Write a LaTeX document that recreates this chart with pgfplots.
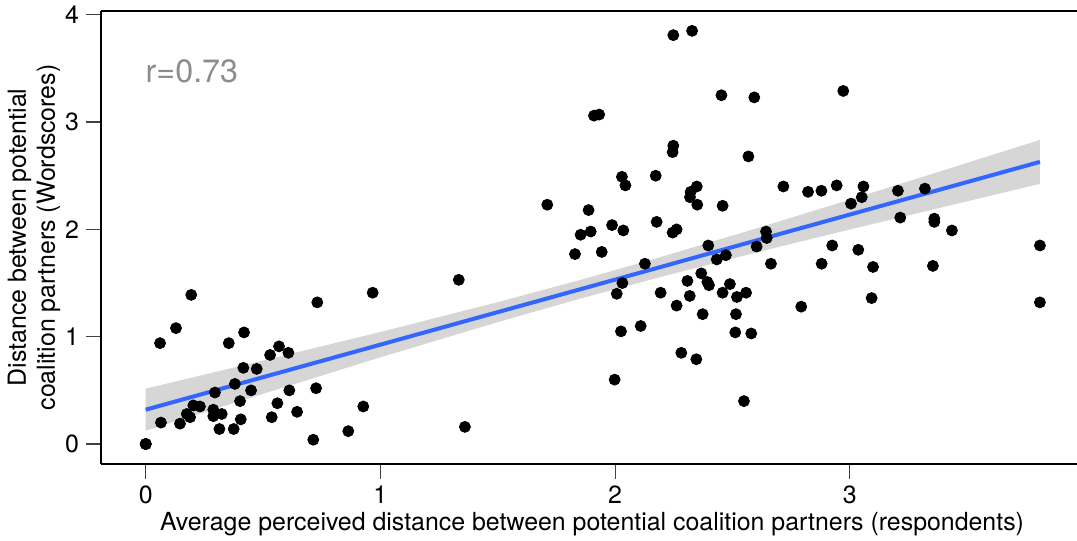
\documentclass[border=0pt]{standalone}
\usepackage{fontspec}
\setmainfont{TeX Gyre Heros}
\usepackage{pgfplots}
\pgfplotsset{compat=1.18}
\definecolor{bandgray}{RGB}{153,153,153}
\definecolor{fitblue}{HTML}{3366FF}
\definecolor{rgray}{HTML}{8C8C8C}

\begin{document}
\begin{tikzpicture}
\begin{axis}[
    scale only axis,
    width=488bp, height=226.5bp,
    xmin=-0.1905, xmax=3.968,
    ymin=-0.186, ymax=4.035,
    axis x line=box, axis y line=left,
    axis line style={-, line width=1bp},
    tick align=outside,
    xtick pos=left, ytick pos=left,
    xtick={0,1,2,3}, ytick={0,1,2,3,4},
    major tick length=7.5bp,
    major tick style={line width=0.6bp, black!75},
    /pgf/number format/assume math mode=true,
    tick label style={font=\fontsize{12.5}{14}\selectfont},
    label style={font=\fontsize{12.5}{14.5}\selectfont},
    xlabel={Average perceived distance between potential coalition partners (respondents)},
    xlabel style={at={(rel axis cs:0.5,0)}, anchor=base, xshift=1.5bp, yshift=-33bp},
    ylabel={Distance between potential\\coalition partners (Wordscores)},
    ylabel style={align=center, at={(rel axis cs:0,0.5)}, anchor=center, yshift=33.5bp},
    clip=false,
]
% observations
\addplot[only marks, mark=*, mark size=2.75bp, mark options={draw=none, fill=black}] coordinates {
(0,0) (0,0) (0,0)
(0.065,0.20) (0.061,0.94) (0.129,1.08) (0.194,1.39) (0.146,0.19)
(0.175,0.28) (0.189,0.25) (0.203,0.36) (0.231,0.35) (0.288,0.32)
(0.288,0.26) (0.324,0.28) (0.295,0.48) (0.314,0.14) (0.375,0.14)
(0.354,0.94) (0.419,1.04) (0.380,0.56) (0.402,0.40) (0.405,0.23)
(0.416,0.71) (0.449,0.50) (0.473,0.70) (0.530,0.83) (0.568,0.91)
(0.608,0.85) (0.537,0.25) (0.561,0.38) (0.612,0.50) (0.645,0.30)
(0.726,0.52) (0.731,1.32) (0.714,0.04) (0.863,0.12) (0.927,0.35)
(0.967,1.41)
(1.334,1.53) (1.360,0.16) (1.711,2.23) (1.829,1.77)
(1.853,1.95) (1.896,1.98) (1.887,2.18) (1.910,3.06) (1.932,3.07)
(1.943,1.79) (1.987,2.04) (1.998,0.60) (2.007,1.40) (2.025,1.05)
(2.031,1.50) (2.035,1.99) (2.029,2.49) (2.044,2.41) (2.109,1.10)
(2.127,1.68) (2.173,2.50) (2.177,2.07) (2.194,1.41) (2.245,1.97)
(2.262,2.00) (2.245,2.72) (2.248,2.78) (2.248,3.81) (2.262,1.29)
(2.282,0.85) (2.308,1.52) (2.318,1.38) (2.319,2.30) (2.322,2.35)
(2.328,3.85) (2.346,0.79) (2.348,2.40) (2.350,2.23) (2.367,1.59)
(2.373,1.21) (2.393,1.51) (2.400,1.48) (2.397,1.85) (2.433,1.72)
(2.453,3.25) (2.458,1.41) (2.458,2.22) (2.472,1.76) (2.489,1.49)
(2.512,1.04) (2.515,1.21) (2.519,1.37) (2.549,0.40) (2.558,1.41)
(2.568,2.68) (2.580,1.03) (2.593,3.23) (2.603,1.84) (2.643,1.98)
(2.646,1.92) (2.664,1.68) (2.717,2.40) (2.793,1.28) (2.822,2.35)
(2.879,2.36) (2.880,1.68) (2.925,1.85) (2.944,2.41) (2.972,3.29)
(3.005,2.24) (3.036,1.81) (3.051,2.30) (3.058,2.40) (3.093,1.36)
(3.099,1.65) (3.205,2.36) (3.215,2.11) (3.320,2.38) (3.354,1.66)
(3.360,2.10) (3.360,2.07) (3.435,1.99) (3.810,1.85) (3.810,1.32)
};
% confidence band
\addplot[draw=none, fill=bandgray, fill opacity=0.4] coordinates {
(0,0.516) (0.5,0.778) (1.0,1.044) (1.5,1.322) (1.85,1.528) (2.2,1.746)
(2.6,2.008) (3.0,2.277) (3.4,2.551) (3.81,2.834)
(3.81,2.424) (3.4,2.209) (3.0,1.999) (2.6,1.784) (2.2,1.560) (1.85,1.354)
(1.5,1.136) (1.0,0.808) (0.5,0.468) (0,0.124)
} -- cycle;
% fitted line
\addplot[fitblue, line width=2bp] coordinates {(0,0.32) (3.81,2.629)};
\node[anchor=base west, text=rgray, font=\fontsize{16.2}{19}\selectfont] at (axis cs:-0.03,3.37) {r=0.73};
\coordinate (bl) at (rel axis cs:0,0);
\coordinate (tr) at (rel axis cs:1,1);
\end{axis}
\pgfresetboundingbox
\path[use as bounding box] ([shift={(-50.5bp,-38.5bp)}]bl) rectangle ([shift={(0bp,5.5bp)}]tr);
\end{tikzpicture}
\end{document}
